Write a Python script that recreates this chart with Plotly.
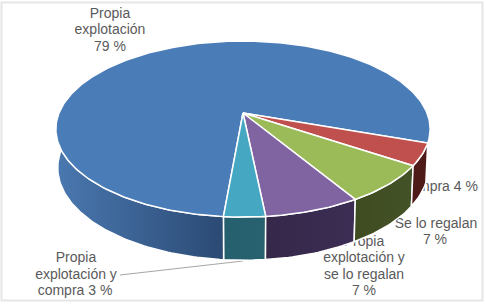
import math
import plotly.graph_objects as go

categories = ["Propia explotación", "Compra", "Se lo regalan",
              "Propia explotación y se lo regalan", "Propia explotación y compra"]
values = [79, 4, 7, 7, 3]
first_angle = 185.0
top_colors = ["#4a7cb8", "#c0504d", "#9bbb59", "#8064a2", "#45a7c2"]
side_colors = [("#4a78b0", "#2b4a74"), ("#4f1b19", "#4f1b19"), ("#3f4c22", "#445227"),
               ("#352849", "#3c2d54"), ("#25606f", "#28616f")]
label_lines = [
    ("Propia", 110, 14), ("explotación", 110, 30), ("79 %", 110, 47),
    ("Compra 4 %", 439, 187),
    ("Se lo regalan", 436, 224), ("7 %", 435, 240),
    ("Propia", 364, 242), ("explotación y", 364, 258), ("se lo regalan", 364, 275), ("7 %", 364, 291),
    ("Propia", 76, 258), ("explotación y", 76, 275), ("compra 3 %", 75, 291),
]

CX, CY, RX, K, P = 243, 113, 184, 85.1, 0.182
BOT_CX, BOT_X, BOT_Y, BOT_S = 243, 0.99, 151, 1.05


def top_pt(t):
    a = math.radians(t)
    u, v = math.sin(a), math.cos(a)
    w = 1 + P * v
    return CX + RX * u / w, CY - K * v / w


def bot_pt(t):
    a = math.radians(t)
    u, v = math.sin(a), math.cos(a)
    w = 1 + P * v
    return BOT_CX + BOT_X * RX * u / w, BOT_Y - BOT_S * K * v / w


def arc(fn, t0, t1, step=1.0):
    n = max(2, int(abs(t1 - t0) / step) + 1)
    return [fn(t0 + (t1 - t0) * i / (n - 1)) for i in range(n)]


fig = go.Figure()

# labels lie under the pie, as in the reference (the pie hides part of them)
fig.add_trace(go.Scatter(
    x=[l[1] for l in label_lines], y=[l[2] for l in label_lines],
    text=[l[0] for l in label_lines], mode="text", textposition="middle center",
    textfont=dict(family="Liberation Sans", size=14, color="#5a5a5a"),
    hoverinfo="skip", showlegend=False))

# leader line
fig.add_trace(go.Scatter(x=[120, 243], y=[275, 261], mode="lines",
                         line=dict(color="#a6a6a6", width=1), hoverinfo="skip", showlegend=False))

# slice angles from the values
total = sum(values)
spans = []
t = first_angle
for val in values:
    t2 = t + val / total * 360
    spans.append((t, t2))
    t = t2

# visible side walls
for i, (a, b) in reversed(list(enumerate(spans))):
    a0, b0 = a % 360, (b % 360)
    if b0 < a0:
        b0 += 360
    if i == 0:
        b0 = 282
    pts = arc(top_pt, a0, b0) + arc(bot_pt, b0, a0)
    xs, ys = zip(*pts)
    c1, c2 = side_colors[i]
    fig.add_trace(go.Scatter(
        x=list(xs) + [xs[0]], y=list(ys) + [ys[0]], mode="lines", fill="toself",
        fillgradient=dict(type="horizontal", colorscale=[[0, c1], [1, c2]]),
        line=dict(color="white", width=1.5), hoverinfo="skip", showlegend=False))

# top faces
for i, (a, b) in enumerate(spans):
    pts = [(CX, CY)] + arc(top_pt, a, b) + [(CX, CY)]
    xs, ys = zip(*pts)
    fig.add_trace(go.Scatter(
        x=list(xs), y=list(ys), mode="lines", fill="toself", fillcolor=top_colors[i],
        line=dict(color="white", width=1.5), hoverinfo="text", text=categories[i], showlegend=False))

fig.update_layout(
    width=486, height=304, margin=dict(l=0, r=0, t=0, b=0, pad=0),
    paper_bgcolor="white", plot_bgcolor="white", autosize=False,
    xaxis=dict(range=[0, 486], visible=False, fixedrange=True),
    yaxis=dict(range=[304, 0], visible=False, fixedrange=True),
    shapes=[dict(type="rect", x0=1.5, y0=2.5, x1=482.5, y1=300.5,
                 line=dict(color="#e6e6e6", width=2), layer="below")],
)
fig.write_html("out.html", config={"displayModeBar": False},
               post_script="document.body.style.margin='0';")
